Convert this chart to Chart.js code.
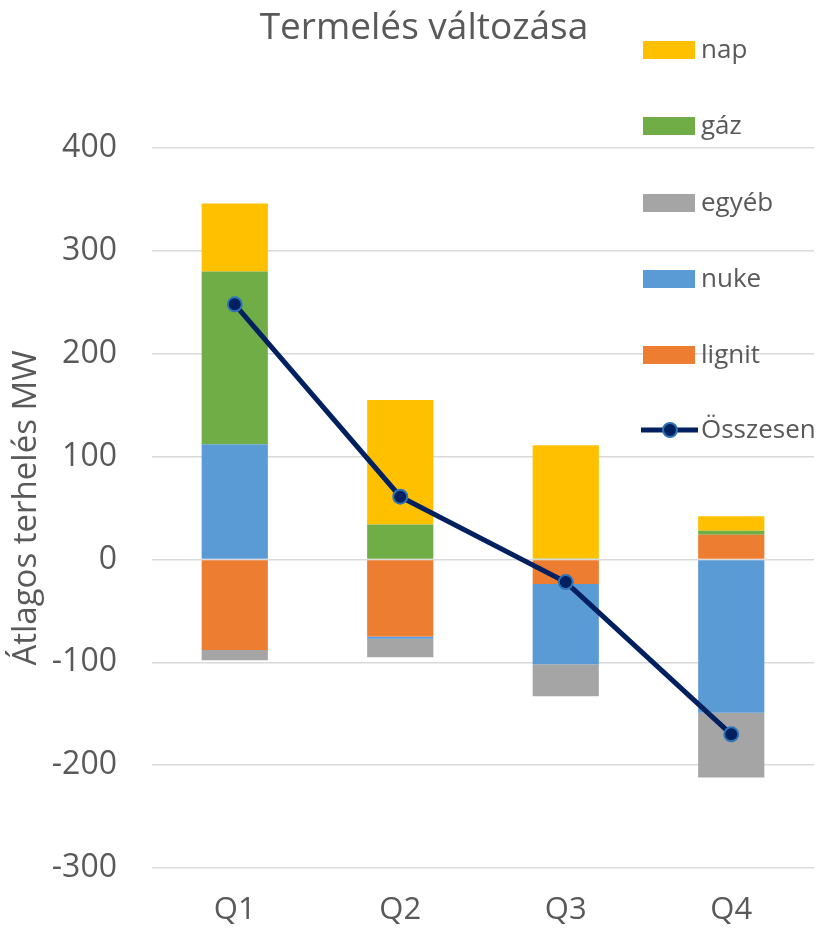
<!DOCTYPE html>
<html>
<head>
<meta charset="utf-8">
<script src="https://cdn.jsdelivr.net/npm/chart.js@4"></script>
<style>
  html, body { margin: 0; padding: 0; background: #fff; }
  #wrap { position: relative; width: 823px; height: 931px; font-family: "Open Sans", sans-serif; color: #595959; }
  #title { position: absolute; left: 0; width: 848px; top: -1px; text-align: center; font-size: 37px; line-height: 52px; }
  #legend { position: absolute; left: 641px; top: 0; }
  .item { position: absolute; left: 0; width: 190px; height: 30px; font-size: 26px; line-height: 30px; white-space: nowrap; }
  .sw { position: absolute; left: 2px; top: 6px; width: 52px; height: 18px; }
  .lbl { position: absolute; left: 60px; top: -2px; }
  canvas { position: absolute; left: 0; top: 0; }
</style>
</head>
<body>
<div id="wrap">
  <canvas id="c" width="823" height="931"></canvas>
  <div id="title">Termelés változása</div>
  <div id="legend"></div>
</div>
<script>
const categories = ["Q1", "Q2", "Q3", "Q4"];
const nap    = [66, 121, 110, 14];
const gaz    = [168, 34, 1, 4];
const egyeb  = [-10, -18, -31, -63];
const nuke   = [112, -2, -78, -149];
const lignit = [-88, -75, -24, 24];
const osszesen = [248, 61, -22, -170];
const yTicks = [400, 300, 200, 100, 0, -100, -200, -300];

const colors = { nap: "#FFC000", gaz: "#70AD47", egyeb: "#A5A5A5", nuke: "#5B9BD5", lignit: "#ED7D31", line: "#002060", marker: "#2E75B6" };

const bar = (label, data, color) => ({ type: "bar", label, data, backgroundColor: color, borderWidth: 0, stack: "s", order: 0, barPercentage: 0.4, categoryPercentage: 1 });

const chart = new Chart(document.getElementById("c"), {
  data: {
    labels: categories,
    datasets: [
      { type: "line", label: "Összesen", data: osszesen, borderColor: colors.line, borderWidth: 5, pointRadius: 7, pointBackgroundColor: colors.line, pointBorderColor: colors.marker, pointBorderWidth: 2, stack: "t", order: -1, tension: 0 },
      bar("lignit", lignit, colors.lignit),
      bar("nuke", nuke, colors.nuke),
      bar("egyéb", egyeb, colors.egyeb),
      bar("gáz", gaz, colors.gaz),
      bar("nap", nap, colors.nap)
    ]
  },
  options: {
    responsive: false,
    animation: false,
    layout: { padding: { top: 148, right: 3, left: 0, bottom: 0 } },
    plugins: { legend: { display: false }, title: { display: false }, tooltip: { enabled: false } },
    scales: {
      x: {
        stacked: true,
        grid: { display: false, drawTicks: false },
        border: { display: false },
        ticks: { color: "#595959", font: { family: "Open Sans", size: 31 }, padding: 24 },
        afterFit: (s) => { s.height = 63; }
      },
      y: {
        stacked: true,
        min: -300, max: 400,
        afterBuildTicks: (s) => { s.ticks = yTicks.map(v => ({ value: v })); },
        grid: { color: "#d9d9d9", lineWidth: 1.5, drawTicks: false, tickLength: 0 },
        border: { display: false },
        ticks: { color: "#595959", font: { family: "Open Sans", size: 32 }, padding: 35 },
        title: { display: true, text: "Átlagos terhelés MW", color: "#595959", font: { family: "Open Sans", size: 33 }, padding: { top: 7, bottom: 0 } },
        afterFit: (s) => { s.width = 152; }
      }
    }
  }
});

// Legend (HTML, real text)
const legendItems = [
  { label: "nap", color: colors.nap, y: 50 },
  { label: "gáz", color: colors.gaz, y: 126 },
  { label: "egyéb", color: colors.egyeb, y: 203 },
  { label: "nuke", color: colors.nuke, y: 279 },
  { label: "lignit", color: colors.lignit, y: 355 },
  { label: "Összesen", line: true, y: 430 }
];
const lg = document.getElementById("legend");
legendItems.forEach(it => {
  const d = document.createElement("div");
  d.className = "item";
  d.style.top = (it.y - 15) + "px";
  if (it.line) {
    d.innerHTML = '<svg style="position:absolute;left:0;top:0" width="58" height="30"><line x1="0" y1="15" x2="57" y2="15" stroke="' + colors.line + '" stroke-width="5"/><circle cx="29" cy="15" r="7" fill="' + colors.line + '" stroke="' + colors.marker + '" stroke-width="2"/></svg><span class="lbl">' + it.label + '</span>';
  } else {
    d.innerHTML = '<div class="sw" style="background:' + it.color + '"></div><span class="lbl">' + it.label + '</span>';
  }
  lg.appendChild(d);
});
</script>
</body>
</html>
